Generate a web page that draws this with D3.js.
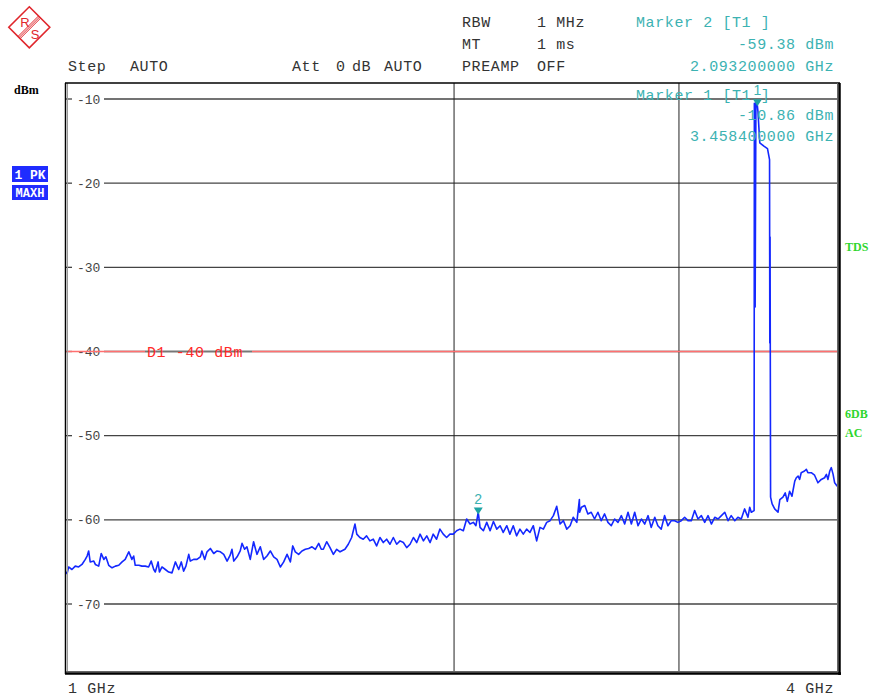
<!DOCTYPE html>
<html><head><meta charset="utf-8">
<script src="https://cdn.jsdelivr.net/npm/d3@7"></script>
<style>body{margin:0;background:#fff} svg{display:block}</style>
</head><body><svg id="c" width="872" height="698"></svg>
<script>
// ---------- DATA ----------
const traceFreqMHz = [
1000,1004,1010,1023,1036,1049,1062,1075,1082,1088,1094,1108,1114,1127,1137,1147,1155,1166,1179,1192,
1205,1218,1230,1244,1256,1263,1269,1283,1295,1308,1321,1331,1341,1347,1358,1363,1373,1386,1399,1412,
1425,1438,1448,1457,1466,1477,1483,1496,1509,1522,1528,1539,1548,1561,1574,1587,1600,1613,1626,1638,
1645,1652,1665,1677,1684,1694,1703,1716,1729,1742,1755,1768,1781,1794,1807,1820,1833,1846,1859,1872,
1881,1891,1904,1917,1930,1943,1956,1969,1982,1992,2000,2013,2026,2039,2052,2065,2084,2097,2110,2123,
2130,2142,2155,2168,2181,2194,2207,2220,2233,2246,2259,2272,2285,2298,2311,2324,2337,2350,2363,2376,
2389,2402,2415,2427,2440,2453,2466,2479,2492,2505,2518,2531,2544,2557,2570,2583,2593,2602,2609,2622,
2635,2648,2661,2674,2687,2699,2713,2725,2738,2751,2764,2777,2790,2803,2816,2829,2842,2855,2868,2881,
2894,2907,2920,2933,2946,2959,2971,2985,2995,2996,3003,3016,3028,3041,3054,3067,3080,3093,3106,3119,
3132,3145,3158,3171,3184,3197,3210,3223,3236,3249,3262,3274,3288,3300,3313,3326,3339,3352,3365,3378,
3391,3404,3417,3430,3443,3456,3469,3482,3495,3508,3521,3534,3547,3560,3573,3585,3599,3611,3624,3637,
3650,3657,3663,3674,3675,3678,3681,3685,3689,3696,3712,3726,3734,3735,3736,3738,3744,3754,3767,3774,
3786,3795,3803,3812,3821,3832,3838,3845,3851,3857,3870,3877,3883,3896,3909,3922,3935,3948,3955,3961,
3968,3974,3981,3987,3997
];
const traceLevelDbm = [
-66.2,-66.4,-65.6,-65.9,-65.5,-65.6,-65.3,-64.7,-64.3,-63.7,-65.0,-64.9,-65.3,-65.5,-64.0,-64.7,-64.4,-65.4,-65.7,-65.5,
-65.4,-65.0,-64.7,-63.8,-64.7,-64.3,-65.4,-65.4,-65.5,-65.5,-65.6,-64.9,-65.9,-66.2,-65.0,-66.2,-65.6,-65.9,-66.2,-66.3,
-65.0,-65.9,-65.0,-66.1,-65.5,-64.1,-64.9,-64.7,-64.7,-64.4,-63.7,-64.7,-63.8,-63.4,-64.0,-63.7,-63.8,-64.1,-64.9,-64.2,
-63.5,-64.9,-64.4,-63.7,-62.8,-63.5,-63.2,-64.7,-62.6,-64.1,-63.2,-64.7,-64.3,-63.7,-64.4,-64.7,-65.6,-65.0,-64.1,-65.0,
-63.1,-63.8,-64.1,-63.7,-63.5,-63.4,-63.2,-63.5,-62.8,-63.5,-63.5,-62.6,-63.3,-64.1,-63.5,-63.8,-63.5,-62.9,-62.1,-60.5,
-61.7,-62.1,-62.3,-61.9,-62.5,-62.3,-63.1,-62.1,-62.7,-62.3,-62.9,-62.1,-62.9,-62.5,-62.7,-63.3,-62.9,-62.1,-62.7,-61.7,
-62.5,-61.9,-62.7,-61.7,-62.3,-61.1,-61.7,-62.1,-61.7,-61.7,-61.3,-61.1,-61.3,-59.9,-60.5,-60.3,-60.7,-59.1,-60.9,-61.3,
-60.3,-61.3,-60.2,-61.1,-60.7,-61.5,-60.7,-61.7,-60.7,-61.9,-61.1,-61.7,-61.1,-61.5,-60.7,-62.5,-60.9,-61.1,-60.3,-60.1,
-59.5,-58.4,-60.5,-60.1,-61.1,-60.7,-59.7,-60.3,-57.6,-59.1,-58.5,-58.3,-59.3,-59.1,-59.9,-59.1,-60.1,-59.3,-60.3,-60.7,
-59.9,-60.3,-59.5,-60.5,-59.1,-60.5,-59.1,-60.7,-59.9,-60.5,-59.5,-60.9,-59.7,-60.7,-61.1,-59.5,-60.7,-60.1,-60.1,-60.3,
-60.1,-59.7,-60.1,-60.1,-58.9,-59.9,-59.5,-60.3,-59.5,-60.5,-59.7,-59.9,-59.5,-59.1,-60.1,-59.5,-60.1,-59.7,-59.9,-58.7,
-59.7,-58.5,-59.1,-58.9,-10.5,-34.7,-10.4,-10.3,-11.5,-15.2,-15.6,-15.9,-17.2,-39.0,-26.4,-57.3,-58.1,-58.7,-59.1,-57.6,
-57.3,-56.8,-57.8,-56.6,-57.2,-55.4,-55.0,-54.8,-55.2,-54.4,-54.2,-54.0,-54.4,-54.4,-54.7,-55.6,-55.2,-55.0,-54.6,-55.2,
-54.2,-53.8,-54.6,-55.6,-56.0
];
const yTicks = [-10, -20, -30, -40, -50, -60, -70];
const verticalLinesMHz = [2508, 3382];
const markerIds = ["1", "2"];
const markerFreqMHz = [3687, 2602];
const markerLevelDbm = [-10.86, -59.38];
const displayLineDbm = -40;
const displayLineLabel = "D1 -40 dBm";
const freqLabels = ["1 GHz", "4 GHz"];
const marker2Lines = ["Marker 2 [T1 ]", "-59.38 dBm", "2.093200000 GHz"];
const marker1Lines = ["Marker 1 [T1 ]", "-10.86 dBm", "3.458400000 GHz"];
const settingsNames = ["RBW", "MT", "PREAMP"];
const settingsValues = ["1 MHz", "1 ms", "OFF"];
const traceInfo = ["1 PK", "MAXH"];
const rightInfo = ["TDS", "6DB", "AC"];

// ---------- DRAW ----------
const svg = d3.select("#c");
const L = 66, R = 838, T = 83, B = 672;
const x = d3.scaleLinear().domain([1000, 4000]).range([L, R]);
const y = d3.scaleLinear().domain([-10, -70]).range([99, 604]);
const MONO = "'Liberation Mono','Courier New',monospace";
const SERIF = "'Liberation Serif','Times New Roman',serif";
const TEAL = "#3cb2b2";

// Logo
const lg = svg.append("g");
const cx = 29.3, cy = 27.3, r = 20.5, red = "#e0262c";
lg.append("path").attr("d", `M${cx},${cy-r}L${cx+r},${cy}L${cx},${cy+r}L${cx-r},${cy}Z`)
  .attr("fill", "none").attr("stroke", red).attr("stroke-width", 1.6);
[-1.5, 0, 1.5].forEach(o => {
  const ox = o / Math.SQRT2, oy = o / Math.SQRT2;
  lg.append("line").attr("x1", cx - r/2 + ox).attr("y1", cy + r/2 + oy)
    .attr("x2", cx + r/2 + ox).attr("y2", cy - r/2 + oy)
    .attr("stroke", red).attr("stroke-width", 1);
});
lg.append("text").attr("x", 25).attr("y", 26.5).attr("text-anchor", "middle")
  .attr("font-family", "'Liberation Sans',Arial,sans-serif").attr("font-size", 13).attr("fill", red).text("R");
lg.append("text").attr("x", 35).attr("y", 38.5).attr("text-anchor", "middle")
  .attr("font-family", "'Liberation Sans',Arial,sans-serif").attr("font-size", 13).attr("fill", red).text("S");

// header text
function t(txt, px, py, anchor, color, size, fam, weight) {
  return svg.append("text").attr("x", px).attr("y", py).attr("text-anchor", anchor || "start")
    .attr("fill", color || "#333").attr("font-size", size || 15).attr("font-family", fam || MONO)
    .attr("font-weight", weight || "normal").attr("letter-spacing", fam ? 0 : 0.6)
    .style("white-space", "pre").text(txt);
}
const rowY = [27, 49, 71];
settingsNames.forEach((s, i) => { t(s, 462, rowY[i]); t(settingsValues[i], 537, rowY[i]); });
t("Step", 68, 71); t("AUTO", 130, 71);
t("Att", 292, 71); t("0", 336, 71); t("dB", 352, 71); t("AUTO", 384, 71);
t(marker2Lines[0], 636, 27, "start", TEAL);
t(marker2Lines[1], 834, 49, "end", TEAL);
t(marker2Lines[2], 834, 71, "end", TEAL);

// left / right labels
t("dBm", 14, 94, "start", "#000", 12, SERIF, "bold");
svg.append("rect").attr("x", 12).attr("y", 166).attr("width", 36).attr("height", 16).attr("fill", "#1f2cff");
svg.append("rect").attr("x", 12).attr("y", 185).attr("width", 36).attr("height", 15).attr("fill", "#1f2cff");
t(traceInfo[0], 30, 179, "middle", "#fff", 13, "'Liberation Mono',monospace", "bold");
t(traceInfo[1], 30, 197, "middle", "#fff", 12, "'Liberation Mono',monospace", "bold");
const rightY = [251, 418, 437];
rightInfo.forEach((s, i) => t(s, 845, rightY[i], "start", "#2ed62e", 12, SERIF, "bold"));

// gridlines
const grid = svg.append("g");
yTicks.forEach(v => {
  grid.append("line").attr("x1", L).attr("x2", 72).attr("y1", y(v)).attr("y2", y(v)).attr("stroke", "#444").attr("stroke-width", 1.3);
  grid.append("line").attr("x1", 104).attr("x2", R).attr("y1", y(v)).attr("y2", y(v)).attr("stroke", "#444").attr("stroke-width", 1.3);
  grid.append("text").attr("x", 77).attr("y", y(v)).attr("dy", "0.35em").attr("font-family", MONO)
    .attr("font-size", 13).attr("fill", "#444").text(String(v));
});
verticalLinesMHz.forEach(f => {
  grid.append("line").attr("x1", x(f)).attr("x2", x(f)).attr("y1", T).attr("y2", B).attr("stroke", "#222").attr("stroke-width", 1);
});

// display line D1
const dy = y(displayLineDbm);
svg.append("line").attr("x1", L).attr("x2", 145).attr("y1", dy).attr("y2", dy).attr("stroke", "#ff7070").attr("stroke-width", 1.6);
svg.append("line").attr("x1", 145).attr("x2", 252).attr("y1", dy).attr("y2", dy).attr("stroke", "#777").attr("stroke-width", 1.6);
svg.append("line").attr("x1", 252).attr("x2", R).attr("y1", dy).attr("y2", dy).attr("stroke", "#ff7070").attr("stroke-width", 1.6);
t(displayLineLabel, 147, dy + 5, "start", "#ff2a2a");

// trace
svg.append("clipPath").attr("id", "clip").append("rect").attr("x", L).attr("y", T).attr("width", R - L).attr("height", B - T);
const line = d3.line().x(i => x(traceFreqMHz[i])).y(i => y(traceLevelDbm[i]));
svg.append("path").attr("d", line(d3.range(traceFreqMHz.length))).attr("clip-path", "url(#clip)")
  .attr("fill", "none").attr("stroke", "#1428ff").attr("stroke-width", 1.6).attr("stroke-linejoin", "round");

// marker 1 text block (drawn over trace like the reference)
t(marker1Lines[0], 636, 100, "start", TEAL);
t(marker1Lines[1], 834, 120, "end", TEAL);
t(marker1Lines[2], 834, 141, "end", TEAL);

// markers
markerIds.forEach((id, i) => {
  const mx = x(markerFreqMHz[i]), my = y(markerLevelDbm[i]);
  svg.append("path").attr("d", `M${mx-4.5},${my-7}L${mx+4.5},${my-7}L${mx},${my}Z`).attr("fill", "#1fa3a3");
  t(id, mx, my - 11, "middle", TEAL, 14, "'Liberation Sans',Arial,sans-serif");
});

// frame
const fr = svg.append("g").attr("stroke", "#000").attr("fill", "none");
fr.append("line").attr("x1", 65.5).attr("x2", 65.5).attr("y1", T).attr("y2", B + 2).attr("stroke-width", 1.5);
fr.append("line").attr("x1", 67.5).attr("x2", 67.5).attr("y1", T).attr("y2", B).attr("stroke", "#999").attr("stroke-width", 1);
fr.append("line").attr("x1", 65).attr("x2", R + 2).attr("y1", T).attr("y2", T).attr("stroke-width", 1.5);
fr.append("line").attr("x1", R - 0.5).attr("x2", R - 0.5).attr("y1", T).attr("y2", B).attr("stroke", "#666").attr("stroke-width", 1);
fr.append("line").attr("x1", R + 1.5).attr("x2", R + 1.5).attr("y1", T).attr("y2", B + 3).attr("stroke-width", 2.5);
fr.append("line").attr("x1", L).attr("x2", R).attr("y1", B - 0.5).attr("y2", B - 0.5).attr("stroke", "#666").attr("stroke-width", 1);
fr.append("line").attr("x1", 65).attr("x2", R + 3).attr("y1", B + 1.5).attr("y2", B + 1.5).attr("stroke-width", 2.5);

// frequency labels
t(freqLabels[0], 68, 693);
t(freqLabels[1], 834, 693, "end");
</script></body></html>
